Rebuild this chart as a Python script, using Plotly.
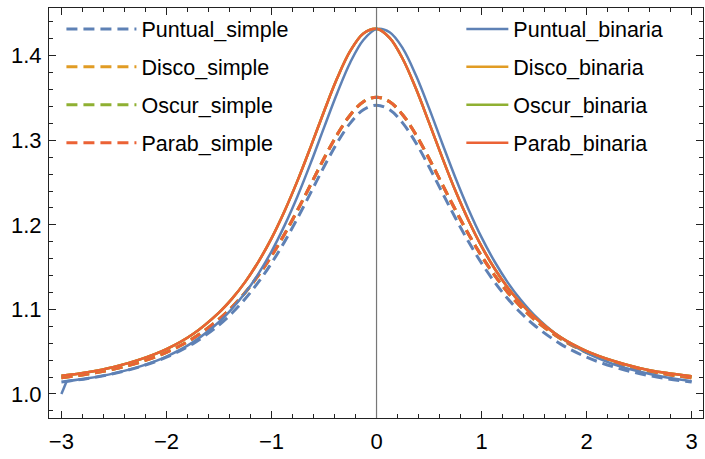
import plotly.graph_objects as go

# ---------------- data ----------------
t = [-3.0, -2.75, -2.5, -2.25, -2.0, -1.75, -1.5, -1.375, -1.25, -1.125, -1.0, -0.875,
     -0.75, -0.625, -0.5, -0.375, -0.25, -0.125, 0.0, 0.125, 0.25, 0.375, 0.5, 0.625,
     0.75, 0.875, 1.0, 1.125, 1.25, 1.375, 1.5, 1.75, 2.0, 2.25, 2.5, 2.75, 3.0]

puntual_simple = [1.0142, 1.0184, 1.0242, 1.0323, 1.0435, 1.0593, 1.0816, 1.0958, 1.1126,
                  1.1322, 1.1547, 1.1802, 1.2084, 1.2384, 1.2687, 1.2970, 1.3204, 1.3361,
                  1.3416, 1.3361, 1.3204, 1.2970, 1.2687, 1.2384, 1.2084, 1.1802, 1.1547,
                  1.1322, 1.1126, 1.0958, 1.0816, 1.0593, 1.0435, 1.0323, 1.0242, 1.0184,
                  1.0142]

disco_simple = [1.0192, 1.0235, 1.0295, 1.0378, 1.0493, 1.0655, 1.0884, 1.1029, 1.1201,
                1.1402, 1.1632, 1.1892, 1.2179, 1.2481, 1.2785, 1.3067, 1.3300, 1.3456,
                1.3510, 1.3456, 1.3300, 1.3067, 1.2785, 1.2481, 1.2179, 1.1892, 1.1632,
                1.1402, 1.1201, 1.1029, 1.0884, 1.0655, 1.0493, 1.0378, 1.0295, 1.0235,
                1.0192]
oscur_simple = list(disco_simple)
parab_simple = list(disco_simple)

t_pb = [-2.95, -2.75, -2.5, -2.25, -2.0, -1.75, -1.5, -1.375, -1.25, -1.125, -1.0, -0.875,
        -0.75, -0.625, -0.5, -0.375, -0.25, -0.125, 0.0, 0.125, 0.25, 0.375, 0.5, 0.625,
        0.75, 0.875, 1.0, 1.125, 1.25, 1.375, 1.5, 1.75, 2.0, 2.25, 2.5, 2.75, 3.0]
puntual_binaria = [1.0150, 1.0185, 1.0244, 1.0327, 1.0443, 1.0610, 1.0851, 1.1009, 1.1196,
                   1.1421, 1.1685, 1.1994, 1.2345, 1.2736, 1.3150, 1.3557, 1.3921, 1.4187,
                   1.4315, 1.4278, 1.4088, 1.3769, 1.3381, 1.2966, 1.2560, 1.2186, 1.1852,
                   1.1564, 1.1317, 1.1110, 1.0936, 1.0670, 1.0485, 1.0355, 1.0265, 1.0199,
                   1.0152]
t_pb_edge = [-3.0, -2.95]
puntual_binaria_edge = [1.0, 1.0150]

disco_binaria = [1.0215, 1.0258, 1.0320, 1.0409, 1.0531, 1.0707, 1.0963, 1.1128, 1.1326,
                 1.1563, 1.1841, 1.2165, 1.2529, 1.2929, 1.3341, 1.3733, 1.4057, 1.4264,
                 1.4319, 1.4212, 1.3962, 1.3612, 1.3209, 1.2798, 1.2406, 1.2055, 1.1746,
                 1.1481, 1.1257, 1.1070, 1.0914, 1.0673, 1.0507, 1.0393, 1.0308, 1.0250,
                 1.0209]
oscur_binaria = list(disco_binaria)
parab_binaria = list(disco_binaria)

# ---------------- style ----------------
BLUE, ORANGE, GREEN, RED = "#5E81B5", "#E19C24", "#8FB032", "#EB6235"
FONT = "Liberation Sans, Arial, sans-serif"
DASH = "11px,6px"

fig = go.Figure()

simple = [("Puntual_simple", puntual_simple, BLUE),
          ("Disco_simple", disco_simple, ORANGE),
          ("Oscur_simple", oscur_simple, GREEN),
          ("Parab_simple", parab_simple, RED)]
for name, ys, col in simple:
    fig.add_trace(go.Scatter(x=t, y=ys, name=name, mode="lines", legend="legend",
                             legendgroup=name,
                             line=dict(color=col, width=3, dash=DASH, shape="spline")))

fig.add_trace(go.Scatter(x=t_pb, y=puntual_binaria, name="Puntual_binaria", mode="lines",
                         legend="legend2", legendgroup="Puntual_binaria",
                         line=dict(color=BLUE, width=2.5, shape="spline")))
fig.add_trace(go.Scatter(x=t_pb_edge, y=puntual_binaria_edge, name="Puntual_binaria",
                         mode="lines", legend="legend2", legendgroup="Puntual_binaria",
                         showlegend=False, line=dict(color=BLUE, width=2.5)))
for name, ys, col in [("Disco_binaria", disco_binaria, ORANGE),
                      ("Oscur_binaria", oscur_binaria, GREEN),
                      ("Parab_binaria", parab_binaria, RED)]:
    fig.add_trace(go.Scatter(x=t, y=ys, name=name, mode="lines", legend="legend2",
                             legendgroup=name,
                             line=dict(color=col, width=2.5, shape="spline")))

axis_common = dict(showline=True, linecolor="#222222", linewidth=1.2, mirror="allticks",
                   ticks="inside", ticklen=7, tickwidth=1, tickcolor="#222222",
                   showgrid=False, zeroline=False,
                   tickfont=dict(family=FONT, size=22, color="black"))

fig.update_xaxes(range=[-3.118, 3.108], dtick=1, tick0=0, ticklabelstandoff=3,
                 minor=dict(ticks="inside", ticklen=4, dtick=0.2, tickcolor="#222222",
                            tickwidth=1, showgrid=False),
                 **axis_common)
fig.update_yaxes(range=[0.9716, 1.4565], dtick=0.1, tick0=1.0, tickformat=".1f",
                 ticklabelstandoff=2,
                 minor=dict(ticks="inside", ticklen=4, dtick=0.02, tickcolor="#222222",
                            tickwidth=1, showgrid=False),
                 **axis_common)

fig.add_shape(type="line", xref="x", yref="paper", x0=0, x1=0, y0=0, y1=1,
              line=dict(color="#777777", width=1.2), layer="above")

legend_common = dict(bgcolor="rgba(0,0,0,0)", borderwidth=0,
                     font=dict(family=FONT, size=21.5, color="black"),
                     traceorder="grouped", tracegroupgap=7,
                     xanchor="left", yanchor="top")

fig.update_layout(
    width=705, height=459,
    margin=dict(l=49, r=2, t=8, b=41),
    plot_bgcolor="white", paper_bgcolor="white",
    showlegend=True,
    legend=dict(x=0.019, y=0.999, itemwidth=70, **legend_common),
    legend2=dict(x=0.6305, y=0.999, itemwidth=42, **legend_common),
)

fig.write_html("out.html")
